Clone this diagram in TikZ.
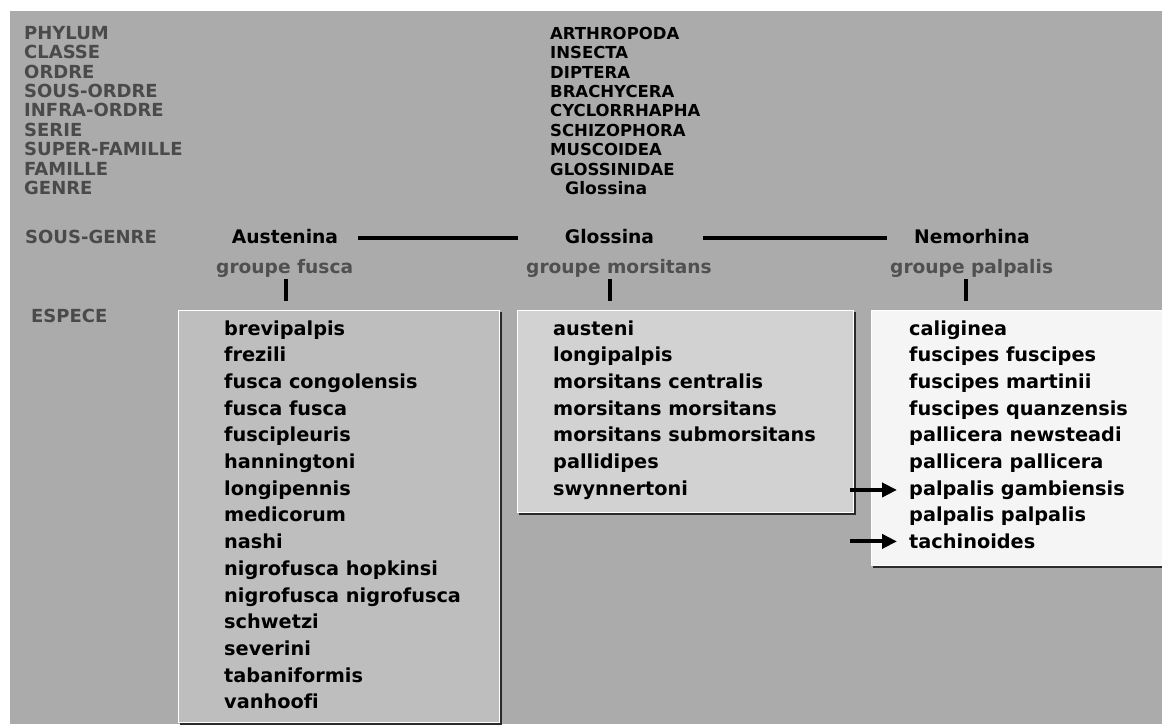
\documentclass[tikz,border=0pt]{standalone}
\usepackage{fontspec}
\setmainfont{DejaVu Sans}[Ligatures=NoCommon]
\usetikzlibrary{arrows.meta}
\definecolor{bg}{HTML}{ABABAB}
\definecolor{boxA}{HTML}{BEBEBE}
\definecolor{boxB}{HTML}{D2D2D2}
\definecolor{boxC}{HTML}{F5F5F5}
\definecolor{rankgray}{HTML}{4A4A4A}
\definecolor{grpgray}{HTML}{505050}
\definecolor{shadow}{HTML}{2A2A2A}
\tikzset{
  rank/.style={anchor=base west, inner sep=0pt, text=rankgray, font=\fontsize{18}{18}\selectfont\bfseries},
  taxon/.style={anchor=base west, inner sep=0pt, text=black, font=\fontsize{16.5}{16.5}\selectfont\bfseries},
  genus/.style={anchor=base west, inner sep=0pt, text=black, font=\fontsize{17.2}{17.2}\selectfont\bfseries},
  subgenus/.style={anchor=base, inner sep=0pt, text=black, font=\fontsize{18.7}{18.7}\selectfont\bfseries},
  grp/.style={anchor=base west, inner sep=0pt, text=grpgray, font=\fontsize{18.6}{18.6}\selectfont\bfseries},
  sp/.style={anchor=base west, inner sep=0pt, text=black, font=\fontsize{19.3}{19.3}\selectfont\bfseries},
  hline/.style={line width=4pt, black},
  tick/.style={line width=3.5pt, black},
  arr/.style={line width=4pt, black, -{Triangle[length=15pt,width=14pt]}},
  listbox/.style={draw=white, line width=1pt, anchor=north west, inner sep=0pt},
  boxshadow/.style={draw=shadow, line width=2pt}
}
\begin{document}
\begin{tikzpicture}[x=1pt,y=-1pt]
\useasboundingbox (0,0) rectangle (1162,724);
\fill[white] (0,0) rectangle (1162,724);
\fill[bg] (10,11) rectangle (1162,724);

% rank labels
\node[rank] (r1) at (24,39.3) {PHYLUM};
\node[rank] (r2) at (24,58.7) {CLASSE};
\node[rank] (r3) at (24,78.1) {ORDRE};
\node[rank] (r4) at (24,97.5) {SOUS-ORDRE};
\node[rank] (r5) at (24,116.9) {INFRA-ORDRE};
\node[rank] (r6) at (24,136.3) {SERIE};
\node[rank] (r7) at (24,155.7) {SUPER-FAMILLE};
\node[rank] (r8) at (24,175.1) {FAMILLE};
\node[rank] (r9) at (24,194.5) {GENRE};
\node[rank] (r10) at (25,243) {SOUS-GENRE};
\node[rank] (r11) at (31,322) {ESPECE};

% taxa
\node[taxon] (t1) at (550,39.3) {ARTHROPODA};
\node[taxon] (t2) at (550,58.7) {INSECTA};
\node[taxon] (t3) at (550,78.1) {DIPTERA};
\node[taxon] (t4) at (550,97.5) {BRACHYCERA};
\node[taxon] (t5) at (550,116.9) {CYCLORRHAPHA};
\node[taxon] (t6) at (550,136.3) {SCHIZOPHORA};
\node[taxon] (t7) at (550,155.7) {MUSCOIDEA};
\node[taxon] (t8) at (550,175.1) {GLOSSINIDAE};
\node[genus] (t9) at (565,194.5) {Glossina};

% sub-genera
\node[subgenus] (sA) at (285,243) {Austenina};
\node[subgenus] (sG) at (609.5,243) {Glossina};
\node[subgenus] (sN) at (972,243) {Nemorhina};
\coordinate (l1a) at (358,238);
\coordinate (l1b) at (518,238);
\coordinate (l2a) at (703,238);
\coordinate (l2b) at (887,238);
\draw[hline] (l1a) -- (l1b);
\draw[hline] (l2a) -- (l2b);

% groups
\node[grp] (gF) at (216,273) {groupe fusca};
\node[grp] (gM) at (526,273) {groupe morsitans};
\node[grp] (gP) at (890,273) {groupe palpalis};
\coordinate (k1a) at (286,279); \coordinate (k1b) at (286,301);
\coordinate (k2a) at (610,279); \coordinate (k2b) at (610,301);
\coordinate (k3a) at (966,279); \coordinate (k3b) at (966,301);
\draw[tick] (k1a) -- (k1b);
\draw[tick] (k2a) -- (k2b);
\draw[tick] (k3a) -- (k3b);

% boxes
\node[listbox, fill=boxA, minimum width=321pt, minimum height=412pt] (bA) at (177.5,309.5) {};
\draw[boxshadow] ([xshift=1.5pt,yshift=-2pt]bA.north east) -- ([xshift=1.5pt,yshift=-1.5pt]bA.south east) -- ([xshift=2pt,yshift=-1.5pt]bA.south west);
\node[listbox, fill=boxB, minimum width=336pt, minimum height=202pt] (bB) at (516.5,309.5) {};
\draw[boxshadow] ([xshift=1.5pt,yshift=-2pt]bB.north east) -- ([xshift=1.5pt,yshift=-1.5pt]bB.south east) -- ([xshift=2pt,yshift=-1.5pt]bB.south west);
\node[listbox, fill=boxC, minimum width=300pt, minimum height=255pt] (bC) at (870.5,309.5) {};
\draw[boxshadow] ([xshift=1.5pt,yshift=-1.5pt]bC.south east) -- ([xshift=2pt,yshift=-1.5pt]bC.south west);

% species fusca
\node[sp] (a1) at (224,335.0) {brevipalpis};
\node[sp] (a2) at (224,361.7) {frezili};
\node[sp] (a3) at (224,388.4) {fusca congolensis};
\node[sp] (a4) at (224,415.1) {fusca fusca};
\node[sp] (a5) at (224,441.8) {fuscipleuris};
\node[sp] (a6) at (224,468.5) {hanningtoni};
\node[sp] (a7) at (224,495.2) {longipennis};
\node[sp] (a8) at (224,521.9) {medicorum};
\node[sp] (a9) at (224,548.6) {nashi};
\node[sp] (a10) at (224,575.3) {nigrofusca hopkinsi};
\node[sp] (a11) at (224,602.0) {nigrofusca nigrofusca};
\node[sp] (a12) at (224,628.7) {schwetzi};
\node[sp] (a13) at (224,655.4) {severini};
\node[sp] (a14) at (224,682.1) {tabaniformis};
\node[sp] (a15) at (224,708.8) {vanhoofi};

% species morsitans
\node[sp] (b1) at (553,335.0) {austeni};
\node[sp] (b2) at (553,361.7) {longipalpis};
\node[sp] (b3) at (553,388.4) {morsitans centralis};
\node[sp] (b4) at (553,415.1) {morsitans morsitans};
\node[sp] (b5) at (553,441.8) {morsitans submorsitans};
\node[sp] (b6) at (553,468.5) {pallidipes};
\node[sp] (b7) at (553,495.2) {swynnertoni};

% species palpalis
\node[sp] (c1) at (909,335.0) {caliginea};
\node[sp] (c2) at (909,361.7) {fuscipes fuscipes};
\node[sp] (c3) at (909,388.4) {fuscipes martinii};
\node[sp] (c4) at (909,415.1) {fuscipes quanzensis};
\node[sp] (c5) at (909,441.8) {pallicera newsteadi};
\node[sp] (c6) at (909,468.5) {pallicera pallicera};
\node[sp] (c7) at (909,495.2) {palpalis gambiensis};
\node[sp] (c8) at (909,521.9) {palpalis palpalis};
\node[sp] (c9) at (909,548.6) {tachinoides};

% arrows
\coordinate (ax) at (850,0);
\draw[arr] (c7.west -| ax) -- ([xshift=-12pt]c7.west);
\draw[arr] (c9.west -| ax) -- ([xshift=-12pt]c9.west);
\end{tikzpicture}
\end{document}
